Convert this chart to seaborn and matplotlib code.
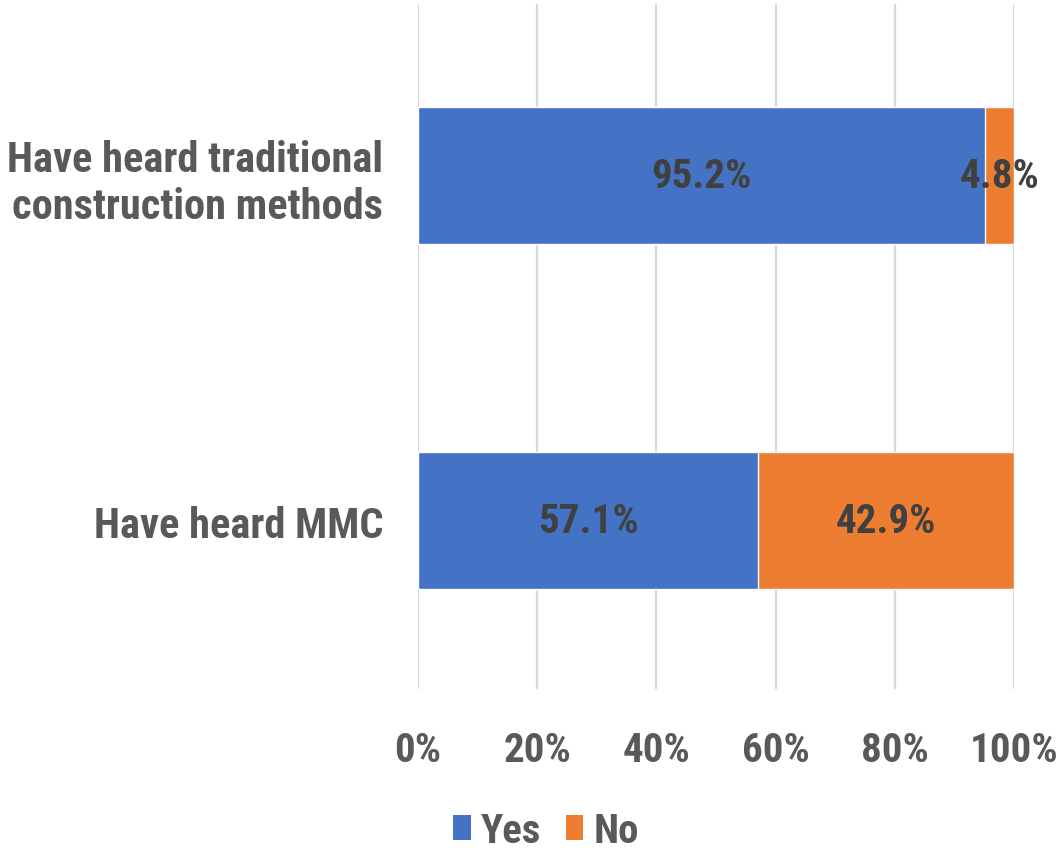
import matplotlib
matplotlib.use("Agg")
import matplotlib.pyplot as plt
from matplotlib import font_manager
from matplotlib.patches import Patch
import seaborn as sns
import pandas as pd

categories = ["Have heard traditional\nconstruction methods", "Have heard MMC"]
yes_vals = [95.2, 57.1]
no_vals = [4.8, 42.9]
series_names = ["Yes", "No"]
xticks = [0, 20, 40, 60, 80, 100]
xtick_labels = ["0%", "20%", "40%", "60%", "80%", "100%"]

BLUE = "#4472C4"
ORANGE = "#ED7D31"
GREY = "#595959"
DARK = "#404040"

sns.set_theme(style="white")
avail = {f.name for f in font_manager.fontManager.ttflist}
fam = []
for cand in ["Liberation Sans Narrow", "Roboto Condensed", "Arial Narrow", "Liberation Sans"]:
    if cand in avail:
        fam.append(cand)
fam.append("DejaVu Sans")
plt.rcParams["font.family"] = fam
plt.rcParams["font.weight"] = "bold"

df = pd.DataFrame({"cat": categories, "Yes": yes_vals, "No": no_vals})
df["total"] = df["Yes"] + df["No"]

fig = plt.figure(figsize=(10.6, 8.53), dpi=100)
ax = fig.add_axes([418 / 1060, 1 - 690 / 853, (1014 - 418) / 1060, (690 - 5) / 853])

sns.barplot(data=df, y="cat", x="total", color=ORANGE, orient="h", width=0.397,
            saturation=1, ax=ax, zorder=3)
sns.barplot(data=df, y="cat", x="Yes", color=BLUE, orient="h", width=0.397,
            saturation=1, ax=ax, zorder=4)

ax.set_xlim(0, 100)
ax.set_ylim(1.488, -0.497)
ax.set_xticks(xticks)
ax.set_xticklabels(xtick_labels)
ax.set_xlabel("")
ax.set_ylabel("")
for s in ax.spines.values():
    s.set_visible(False)
ax.grid(axis="x", color="#D9D9D9", linewidth=1.6, zorder=0)
ax.set_axisbelow(True)
ax.tick_params(axis="x", length=0, pad=30, labelsize=29.5, labelcolor=GREY)
ax.tick_params(axis="y", length=0, pad=25, labelsize=30.5, labelcolor=GREY)
for lab in ax.get_yticklabels():
    lab.set_fontweight("bold")
    lab.set_horizontalalignment("right")
for lab in ax.get_xticklabels():
    lab.set_fontweight("bold")

for i, (y, n) in enumerate(zip(yes_vals, no_vals)):
    ax.text(y / 2, i, f"{y:.1f}%", ha="center", va="center", fontsize=29.5,
            fontweight="bold", color=DARK, zorder=6)
    ax.text(y + n / 2, i, f"{n:.1f}%", ha="center", va="center", fontsize=29.5,
            fontweight="bold", color=DARK, zorder=6)

handles = [Patch(facecolor=BLUE, edgecolor="none"), Patch(facecolor=ORANGE, edgecolor="none")]
fig.legend(handles, series_names, loc="center", bbox_to_anchor=(546 / 1060, 1 - 832 / 853),
           ncol=2, frameon=False, handlelength=0.42, handleheight=0.55,
           handletextpad=0.25, columnspacing=0.6, labelcolor=GREY,
           prop={"weight": "bold", "size": 29.5})

fig.savefig("out.png", dpi=100)
